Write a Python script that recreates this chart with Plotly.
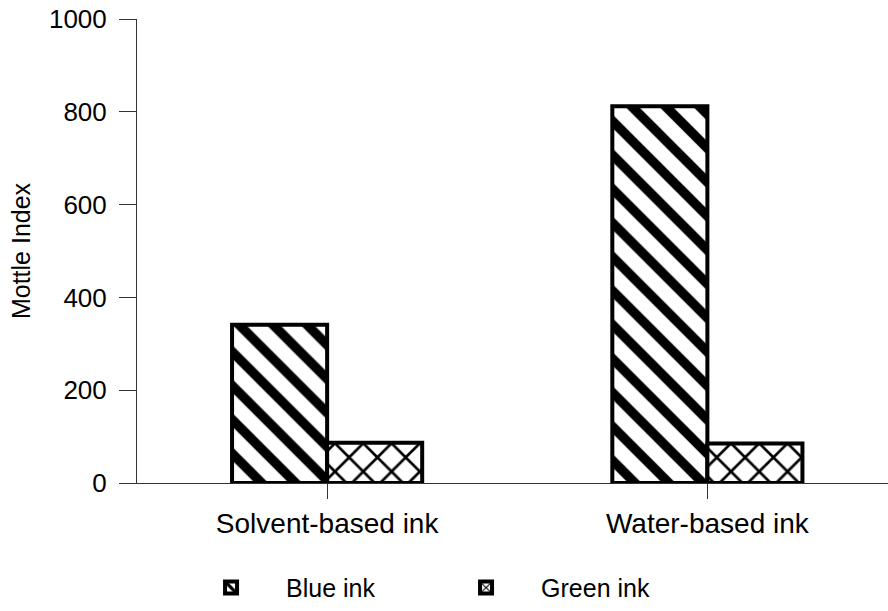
import plotly.graph_objects as go

categories = ["Solvent-based ink", "Water-based ink"]
blue_ink = [341, 812]
green_ink = [87, 85]
y_ticks = [0, 200, 400, 600, 800, 1000]

FONT = "Arial, Liberation Sans, sans-serif"

fig = go.Figure()
fig.add_trace(go.Bar(
    name="Blue ink", x=categories, y=blue_ink,
    marker=dict(color="white", line=dict(color="black", width=4),
                pattern=dict(shape="\\", size=24, solidity=0.4,
                             fgcolor="black", bgcolor="white", fillmode="replace")),
))
fig.add_trace(go.Bar(
    name="Green ink", x=categories, y=green_ink,
    marker=dict(color="white", line=dict(color="black", width=4),
                pattern=dict(shape="x", size=20, solidity=0.25,
                             fgcolor="black", bgcolor="white", fillmode="replace")),
))

fig.update_layout(
    width=888, height=611,
    margin=dict(l=137, r=0, t=19, b=128, autoexpand=False),
    paper_bgcolor="white", plot_bgcolor="white",
    barmode="group", bargap=0.5, bargroupgap=0,
    font=dict(family=FONT, size=25, color="black"),
    showlegend=True,
    legend=dict(orientation="h", x=0.052, xanchor="left", y=-0.226, yanchor="middle",
                entrywidth=140, entrywidthmode="pixels", itemwidth=100,
                font=dict(family=FONT, size=25, color="black")),
)
fig.update_xaxes(
    type="category", range=[-0.5, 1.475],
    showline=True, linecolor="#333", linewidth=1,
    ticks="outside", ticklen=15, tickcolor="#333", tickwidth=1,
    showgrid=False, zeroline=False, automargin=False,
    tickfont=dict(family=FONT, size=28, color="black"),
)
fig.update_yaxes(
    range=[0, 1000], tickvals=y_ticks,
    showline=True, linecolor="#333", linewidth=1,
    ticks="outside", ticklen=17, tickcolor="#333", tickwidth=1,
    showgrid=False, zeroline=False, automargin=False,
    ticklabeloverflow="allow",
    tickfont=dict(family=FONT, size=26, color="black"),
    ticklabelstandoff=7,
    title=dict(text="Mottle Index", font=dict(family=FONT, size=25, color="black"), standoff=11),
)

fig.write_html("out.html", config={"displayModeBar": False},
               post_script="document.body.style.margin='0';")
